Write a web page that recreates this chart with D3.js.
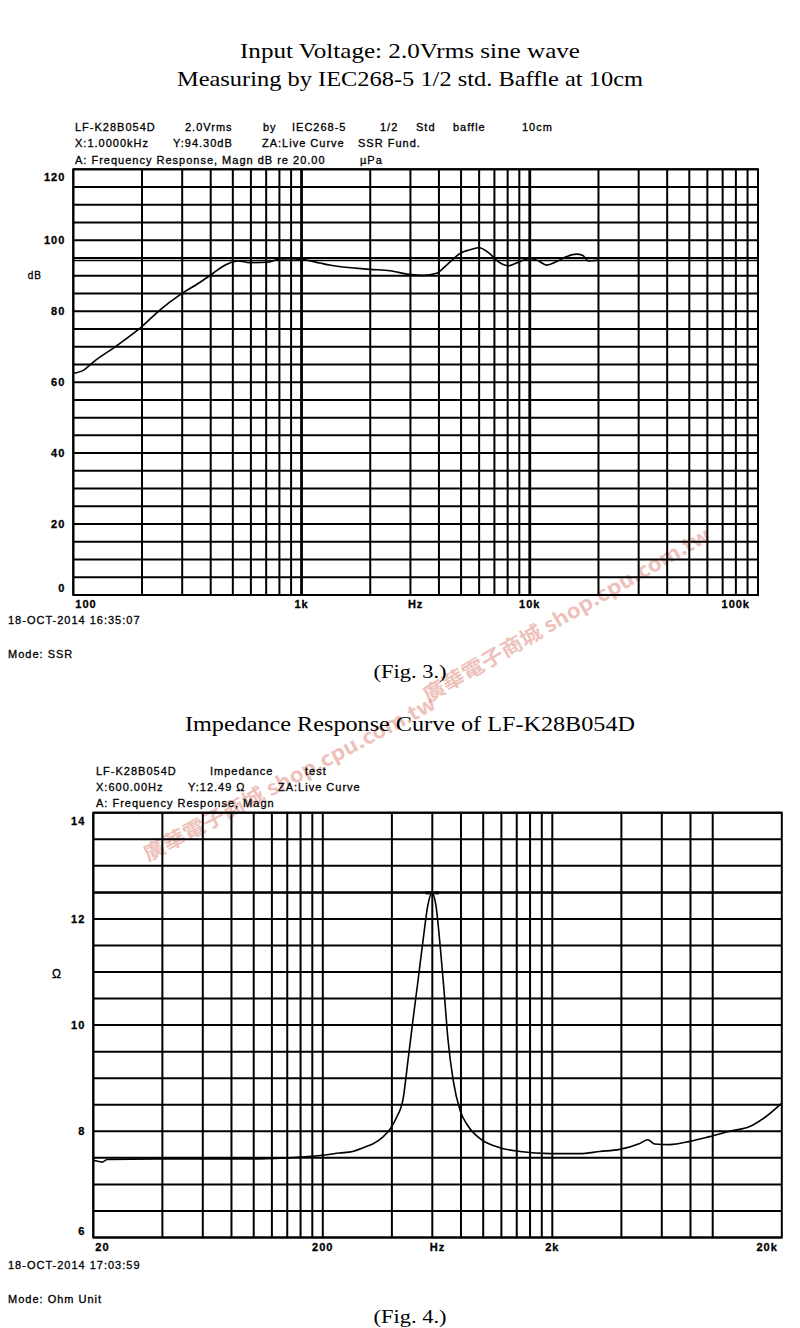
<!DOCTYPE html>
<html>
<head>
<meta charset="utf-8">
<script src="https://cdn.jsdelivr.net/npm/d3@7"></script>
<style>
  body { margin: 0; background: #fff; }
  text { fill: #000; }
  .hdr { font-family: "Liberation Sans", Arial, sans-serif; font-size: 11px; letter-spacing: 1px;
         stroke: #000; stroke-width: 0.3px; }
  .ttl { font-family: "Liberation Serif", "DejaVu Serif", serif; font-size: 21px; }
</style>
</head>
<body>
<div id="chart"></div>
<script>
// Fig. 3 - SPL frequency response (Hz / dB)
var splFreq = [100, 111, 122, 152, 196, 240, 293, 358, 410, 446, 528, 594, 703, 803, 900, 1000,
  1200, 1325, 1995, 2442, 3000, 3410, 3905, 4320, 5010, 5480, 6000, 6650, 7270, 8050, 9060,
  10000, 10900, 11860, 13100, 14500, 16000, 17100, 18000, 19500, 20000];
var splDb = [62.5, 63.4, 65.6, 69.9, 75.2, 80.4, 84.6, 88.1, 90.7, 92.4, 94.2, 93.7, 93.8, 94.7, 94.8, 94.6,
  93.6, 93.0, 91.8, 91.4, 90.3, 90.1, 90.7, 93.0, 96.5, 97.3, 97.9, 96.3, 94.0, 92.8, 94.0,
  94.9, 94.2, 93.0, 94.0, 95.4, 96.1, 95.7, 94.2, 94.3, 94.5];
var splYLabels = [120, 100, 80, 60, 40, 20, 0];
var splXLabels = [["100", 100], ["1k", 1000], ["Hz", null], ["10k", 10000], ["100k", 100000]];

// Fig. 4 - impedance curve (Hz / ohm)
var zFreq = [20, 20.7, 21.8, 23, 38.4, 106, 154, 200, 236, 270, 304, 330, 365, 394, 420, 448, 470, 494,
  520, 547, 574, 598, 622, 649, 675, 703, 740, 793, 859, 969, 1183, 1446, 1955, 2637, 3222,
  3936, 4809, 5213, 5590, 6500, 7940, 9700, 11860, 14490, 16860, 20000];
var zOhm = [7.46, 7.44, 7.42, 7.47, 7.48, 7.48, 7.51, 7.55, 7.59, 7.62, 7.70, 7.76, 7.89, 8.05, 8.27, 8.62, 9.33, 10.09,
  10.84, 11.6, 12.26, 12.49, 12.26, 11.5, 10.65, 9.71, 8.96, 8.39, 8.10, 7.86, 7.69, 7.62, 7.58, 7.58, 7.62,
  7.66, 7.77, 7.84, 7.76, 7.75, 7.81, 7.90, 8.00, 8.09, 8.26, 8.53];
var zYLabels = [14, 12, 10, 8, 6];
var zXLabels = [["20", 20], ["200", 200], ["Hz", null], ["2k", 2000], ["20k", 20000]];

var watermark = "廣華電子商城  shop.cpu.com.tw";

var svg = d3.select("#chart").append("svg")
  .attr("width", 800)
  .attr("height", 1328);

// watermarks sit under everything else
[[148, 862, -28], [428, 703, -30]].forEach(function(w) {
  svg.append("text")
    .attr("transform", "translate(" + w[0] + "," + w[1] + ") rotate(" + w[2] + ")")
    .attr("textLength", 328)
    .attr("lengthAdjust", "spacingAndGlyphs")
    .style("font-family", "'Noto Sans CJK TC', 'Liberation Sans', sans-serif")
    .style("font-weight", "bold")
    .style("font-size", "20px")
    .style("fill", "#de8479")
    .style("opacity", 0.5)
    .text(watermark);
});

function title(txt, x, y, len, size) {
  svg.append("text").attr("class", "ttl")
    .attr("x", x).attr("y", y)
    .attr("text-anchor", "middle")
    .attr("textLength", len).attr("lengthAdjust", "spacingAndGlyphs")
    .style("font-size", size + "px")
    .text(txt);
}

function hdr(txt, x, y) {
  svg.append("text").attr("class", "hdr").attr("x", x).attr("y", y).text(txt);
}

function decadeGrid(lo, hi) {
  var out = [];
  for (var d = lo; d < hi; d *= 10) {
    for (var m = 1; m < 10; m++) {
      var v = d * m;
      if (v >= lo && v < hi) out.push(v);
    }
  }
  return out;
}

function drawPlot(cfg) {
  var g = svg.append("g");
  var x = d3.scaleLog().domain(cfg.xDomain).range([cfg.left, cfg.right]);
  var y = d3.scaleLinear().domain(cfg.yDomain).range([cfg.bottom, cfg.top]);

  // horizontal grid
  g.selectAll(".hg").data(d3.range(cfg.yDomain[0], cfg.yDomain[1] + 1e-6, cfg.yStep))
    .enter().append("line")
    .attr("x1", cfg.left).attr("x2", cfg.right)
    .attr("y1", function(d) { return y(d); }).attr("y2", function(d) { return y(d); })
    .attr("stroke", "#000").attr("stroke-width", 2);

  // vertical grid
  g.selectAll(".vg").data(cfg.xGrid)
    .enter().append("line")
    .attr("x1", function(d) { return x(d); }).attr("x2", function(d) { return x(d); })
    .attr("y1", cfg.top).attr("y2", cfg.bottom)
    .attr("stroke", "#000")
    .attr("stroke-width", function(d) { return cfg.thick.indexOf(d) >= 0 ? 2.8 : 2; });

  g.append("rect")
    .attr("x", cfg.left).attr("y", cfg.top)
    .attr("width", cfg.right - cfg.left).attr("height", cfg.bottom - cfg.top)
    .attr("fill", "none").attr("stroke", "#000").attr("stroke-width", 2);

  // cursor line
  g.append("line")
    .attr("x1", cfg.left).attr("x2", cfg.right)
    .attr("y1", y(cfg.cursor[1])).attr("y2", y(cfg.cursor[1]))
    .attr("stroke", "#000").attr("stroke-width", 1.6);

  var line = d3.line()
    .x(function(d) { return x(d[0]); })
    .y(function(d) { return y(d[1]); })
    .curve(d3.curveMonotoneX);

  g.append("path")
    .datum(d3.zip(cfg.freq, cfg.vals))
    .attr("d", line)
    .attr("fill", "none").attr("stroke", "#000").attr("stroke-width", 1.6);

  cfg.marker(g, x, y);

  // y labels
  g.selectAll(".yl").data(cfg.yLabels)
    .enter().append("text").attr("class", "hdr")
    .attr("x", cfg.left - 8)
    .attr("y", function(d, i) {
      var py = y(d) + 4;
      if (i === 0) py += 8;
      if (i === cfg.yLabels.length - 1) py -= 7;
      return py;
    })
    .attr("text-anchor", "end")
    .style("font-weight", "bold")
    .text(function(d) { return d; });

  g.append("text").attr("class", "hdr")
    .attr("x", cfg.unitX).attr("y", cfg.unitY)
    .attr("text-anchor", "end")
    .style("font-size", cfg.unitSize + "px")
    .text(cfg.unit);

  // x labels
  var n = cfg.xLabels.length;
  g.selectAll(".xl").data(cfg.xLabels)
    .enter().append("text").attr("class", "hdr")
    .attr("x", function(d, i) {
      if (i === 0) return cfg.left + 2;
      if (i === n - 1) return cfg.right - cfg.lastPad;
      if (d[1] === null) return (cfg.left + cfg.right) / 2;
      return x(d[1]);
    })
    .attr("y", cfg.bottom + 13)
    .attr("text-anchor", function(d, i) { return i === 0 ? "start" : (i === n - 1 ? "end" : "middle"); })
    .style("font-weight", "bold")
    .text(function(d) { return d[0]; });
}

// ---- Fig. 3 ----
title("Input Voltage: 2.0Vrms sine wave", 410, 58, 340, 21);
title("Measuring by IEC268-5 1/2 std. Baffle at 10cm", 410, 86, 466, 21);

hdr("LF-K28B054D", 75, 131); hdr("2.0Vrms", 185, 131); hdr("by", 263, 131);
hdr("IEC268-5", 292, 131); hdr("1/2", 380, 131); hdr("Std", 416, 131);
hdr("baffle", 453, 131); hdr("10cm", 522, 131);
hdr("X:1.0000kHz", 75, 147); hdr("Y:94.30dB", 173, 147);
hdr("ZA:Live Curve", 262, 147); hdr("SSR Fund.", 358, 147);
hdr("A: Frequency Response, Magn dB re 20.00", 75, 164); hdr("\u00b5Pa", 360, 164);

drawPlot({
  left: 73.3, right: 758, top: 169.3, bottom: 595,
  xDomain: [100, 100000], yDomain: [0, 120], yStep: 5,
  xGrid: decadeGrid(100, 100000), thick: [1000, 10000],
  freq: splFreq, vals: splDb, cursor: [1000, 94.3],
  yLabels: splYLabels, xLabels: splXLabels, lastPad: 8,
  unit: "dB", unitX: 42, unitY: 279, unitSize: 10,
  marker: function(g, x, y) {
    g.append("line")
      .attr("x1", x(1000)).attr("x2", x(1000))
      .attr("y1", y(97.5)).attr("y2", y(91.8))
      .attr("stroke", "#000").attr("stroke-width", 2);
  }
});

hdr("18-OCT-2014 16:35:07", 8, 624);
hdr("Mode: SSR", 8, 658);
title("(Fig. 3.)", 410, 678, 73, 19);

// ---- Fig. 4 ----
title("Impedance Response Curve of LF-K28B054D", 410, 731, 450, 21);

hdr("LF-K28B054D", 96, 775); hdr("Impedance", 210, 775); hdr("test", 305, 775);
hdr("X:600.00Hz", 96, 791); hdr("Y:12.49 \u03a9", 188, 791); hdr("ZA:Live Curve", 278, 791);
hdr("A: Frequency Response, Magn", 96, 807);

drawPlot({
  left: 93.3, right: 781.8, top: 812.7, bottom: 1237.5,
  xDomain: [20, 20000], yDomain: [6, 14], yStep: 0.5,
  xGrid: decadeGrid(20, 20000).filter(function(v) { return v <= 10000; }), thick: [],
  freq: zFreq, vals: zOhm, cursor: [600, 12.49],
  yLabels: zYLabels, xLabels: zXLabels, lastPad: 4,
  unit: "\u03a9", unitX: 62, unitY: 978, unitSize: 12,
  marker: function(g, x, y) {
    [[560, 590], [612, 642]].forEach(function(s) {
      g.append("line")
        .attr("x1", x(s[0])).attr("x2", x(s[1]))
        .attr("y1", y(12.49)).attr("y2", y(12.49))
        .attr("stroke", "#000").attr("stroke-width", 3);
    });
  }
});

hdr("18-OCT-2014 17:03:59", 8, 1269);
hdr("Mode: Ohm Unit", 8, 1303);
title("(Fig. 4.)", 410, 1323, 73, 19);
</script>
</body>
</html>
